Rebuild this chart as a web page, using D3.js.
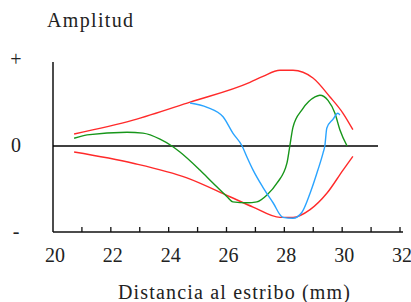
<!DOCTYPE html>
<html>
<head>
<meta charset="utf-8">
<script src="https://cdn.jsdelivr.net/npm/d3@7"></script>
<style>
  body { margin: 0; background: #fff; }
  text { font-family: "Liberation Serif", "DejaVu Serif", serif; fill: #222; }
</style>
</head>
<body>
<script>
// values (x in mm, y as relative amplitude)
const xTicks = [20, 22, 24, 26, 28, 30, 32];
const yLabels = ["+", "0", "-"];
const redUpperX = [20.73, 22.77, 24.74, 26.81, 27.26, 27.85, 28.30, 28.99, 29.58, 30.03, 30.37];
const redUpperY = [0.14, 0.30, 0.51, 0.74, 0.81, 0.88, 0.88, 0.79, 0.57, 0.38, 0.19];
const redLowerX = [20.73, 22.77, 24.63, 26.12, 26.92, 27.85, 28.30, 28.89, 29.47, 30.03, 30.37];
const redLowerY = [-0.07, -0.20, -0.37, -0.59, -0.71, -0.83, -0.83, -0.74, -0.55, -0.28, -0.12];
const greenX = [20.73, 21.18, 22.56, 23.11, 23.70, 24.11, 24.39, 25.08, 25.53, 26.02, 26.22, 26.71, 27.05, 27.40, 27.75, 28.09, 28.19, 28.30, 28.61, 29.06, 29.23, 29.51, 29.75, 29.92, 30.17];
const greenY = [0.09, 0.13, 0.16, 0.15, 0.08, 0.0, -0.07, -0.28, -0.43, -0.59, -0.65, -0.66, -0.65, -0.57, -0.43, -0.20, 0.0, 0.22, 0.42, 0.57, 0.59, 0.53, 0.38, 0.19, 0.0];
const blueX = [24.74, 25.33, 25.88, 26.22, 26.54, 26.71, 26.92, 27.26, 27.61, 27.95, 28.30, 28.61, 28.89, 29.16, 29.34, 29.40, 29.47, 29.68, 29.85, 29.92];
const blueY = [0.50, 0.45, 0.34, 0.15, 0.0, -0.13, -0.28, -0.48, -0.66, -0.83, -0.84, -0.77, -0.55, -0.28, -0.08, 0.0, 0.21, 0.31, 0.38, 0.36];

const width = 411, height = 302;
const svg = d3.select("body").append("svg")
    .attr("width", width)
    .attr("height", height);

const x = d3.scaleLinear().domain([20, 32]).range([53, 400]);
const y = d3.scaleLinear().domain([-1, 1]).range([232, 60]);

// axes
const xAxis = svg.append("g")
    .attr("transform", "translate(0," + y(-1) + ")");
xAxis.append("line")
    .attr("x1", x(20)).attr("x2", x(32) + 3)
    .attr("stroke", "#111").attr("stroke-width", 1.5);
xAxis.selectAll("line.tick")
    .data(d3.range(21, 33))
    .enter().append("line")
    .attr("class", "tick")
    .attr("x1", d => x(d)).attr("x2", d => x(d))
    .attr("y1", 0).attr("y2", -5)
    .attr("stroke", "#111").attr("stroke-width", 1.3);
xAxis.selectAll("text")
    .data(xTicks)
    .enter().append("text")
    .attr("x", d => x(d) + 2)
    .attr("y", 30)
    .attr("text-anchor", "middle")
    .style("font-size", "20px")
    .text(d => d);

svg.append("line") // y axis
    .attr("x1", x(20)).attr("x2", x(20))
    .attr("y1", 62).attr("y2", y(-1))
    .attr("stroke", "#111").attr("stroke-width", 1.5);

svg.append("line") // zero line
    .attr("x1", x(20)).attr("x2", 378)
    .attr("y1", y(0)).attr("y2", y(0))
    .attr("stroke", "#000").attr("stroke-width", 1.5);

svg.selectAll("text.ylab")
    .data(yLabels)
    .enter().append("text")
    .attr("class", "ylab")
    .attr("x", 16)
    .attr("y", (d, i) => y(1 - i) + 6)
    .attr("text-anchor", "middle")
    .style("font-size", "20px")
    .text(d => d);

svg.append("text")
    .attr("x", 47).attr("y", 27)
    .style("font-size", "20px")
    .attr("textLength", 86)
    .text("Amplitud");

svg.append("text")
    .attr("x", 234).attr("y", 299)
    .attr("text-anchor", "middle")
    .style("font-size", "20px")
    .attr("textLength", 232)
    .text("Distancia al estribo (mm)");

// curves
const line = d3.line()
    .x(d => x(d[0]))
    .y(d => y(d[1]))
    .curve(d3.curveMonotoneX);

const series = [
    {xs: redUpperX, ys: redUpperY, color: "#ff2a2a"},
    {xs: redLowerX, ys: redLowerY, color: "#ff2a2a"},
    {xs: greenX, ys: greenY, color: "#17961a"},
    {xs: blueX, ys: blueY, color: "#2aa4ff"}
];

series.forEach(s => {
    svg.append("path")
        .datum(s.xs.map((v, i) => [v, s.ys[i]]))
        .attr("d", line)
        .attr("fill", "none")
        .attr("stroke", s.color)
        .attr("stroke-width", 1.4);
});
</script>
</body>
</html>
